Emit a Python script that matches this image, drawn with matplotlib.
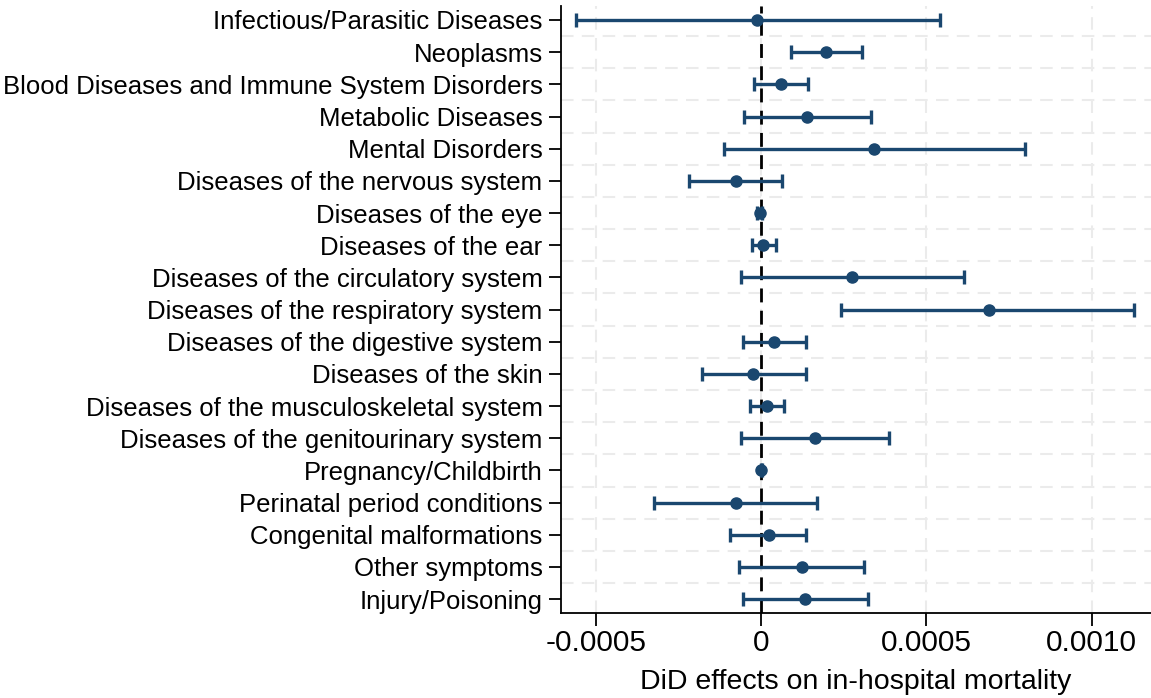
import matplotlib
matplotlib.use("Agg")
import matplotlib.pyplot as plt
import numpy as np

categories = [
    "Infectious/Parasitic Diseases",
    "Neoplasms",
    "Blood Diseases and Immune System Disorders",
    "Metabolic Diseases",
    "Mental Disorders",
    "Diseases of the nervous system",
    "Diseases of the eye",
    "Diseases of the ear",
    "Diseases of the circulatory system",
    "Diseases of the respiratory system",
    "Diseases of the digestive system",
    "Diseases of the skin",
    "Diseases of the musculoskeletal system",
    "Diseases of the genitourinary system",
    "Pregnancy/Childbirth",
    "Perinatal period conditions",
    "Congenital malformations",
    "Other symptoms",
    "Injury/Poisoning",
]
estimate = [-0.000012, 0.000197, 0.000059, 0.000139, 0.000342, -0.000076, -0.000005,
            0.000006, 0.000275, 0.000690, 0.000040, -0.000024, 0.000017, 0.000164,
            0.000000, -0.000077, 0.000023, 0.000123, 0.000132]
ci_low = [-0.000560, 0.000089, -0.000021, -0.000051, -0.000114, -0.000217, -0.000013,
          -0.000029, -0.000061, 0.000242, -0.000055, -0.000180, -0.000033, -0.000061,
          -0.000002, -0.000325, -0.000093, -0.000067, -0.000056]
ci_high = [0.000542, 0.000304, 0.000142, 0.000331, 0.000799, 0.000063, 0.000003,
           0.000044, 0.000614, 0.001130, 0.000135, 0.000136, 0.000068, 0.000387,
           0.000002, 0.000170, 0.000135, 0.000310, 0.000322]
xticks = [-0.0005, 0, 0.0005, 0.0010]
xtick_labels = ["-0.0005", "0", "0.0005", "0.0010"]
xlabel = "DiD effects on in-hospital mortality"

plt.rcParams['font.family'] = ['Liberation Sans', 'DejaVu Sans']
color = "#1a476f"

fig = plt.figure(figsize=(11.51, 6.98), dpi=100)
ax = fig.add_axes([0.4871, 0.1213, 0.5129, 0.8701])

y = np.arange(len(categories))
est = np.array(estimate)
lo = np.array(ci_low)
hi = np.array(ci_high)

# grid
for xv in xticks:
    ax.axvline(xv, color="#ebebeb", lw=1.5, ls=(0, (6, 4)), zorder=0)
for yv in np.arange(len(categories) - 1) + 0.5:
    ax.axhline(yv, color="#ebebeb", lw=1.5, ls=(0, (6, 4)), zorder=0)

ax.axvline(0, color="black", lw=2.0, ls=(0, (5, 3)), zorder=1)

ax.errorbar(est, y, xerr=[est - lo, hi - est], fmt="o", color=color, ecolor=color,
            elinewidth=2.4, capsize=5, capthick=2.4, markersize=8, zorder=3)

ax.set_xlim(-0.000607, 0.00118)
ax.set_ylim(18.44, -0.435)
ax.set_yticks(y)
ax.set_yticklabels(categories, fontsize=18.5)
ax.set_xticks(xticks)
ax.set_xticklabels(xtick_labels, fontsize=21.5)
ax.set_xlabel(xlabel, fontsize=20.5, labelpad=9)

for s in ["top", "right"]:
    ax.spines[s].set_visible(False)
for s in ["left", "bottom"]:
    ax.spines[s].set_linewidth(1.3)
ax.tick_params(axis="both", direction="out", length=9, width=1.3, colors="black")
ax.tick_params(axis="y", pad=4)
ax.tick_params(axis="x", pad=2)

fig.savefig("out.png", dpi=100)
